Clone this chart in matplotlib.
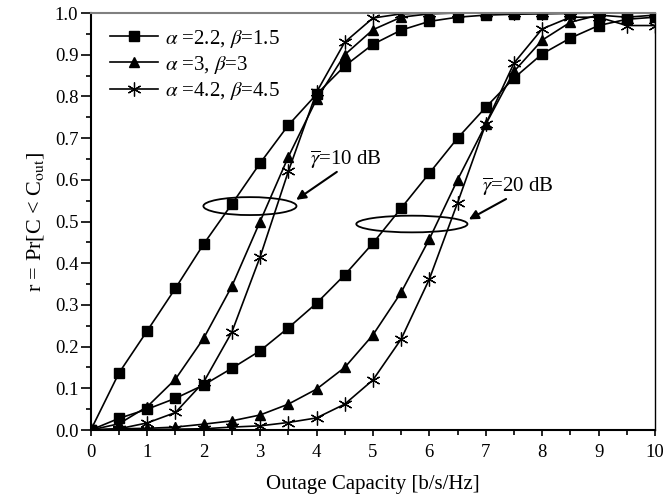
import matplotlib
matplotlib.use("Agg")
import matplotlib.pyplot as plt
import matplotlib.patches as patches

plt.rcParams['font.family'] = ['Liberation Serif', 'DejaVu Serif']
plt.rcParams['mathtext.fontset'] = 'stix'

# capacite de coupure (b/s/Hz)
cap = [0, 0.5, 1, 1.5, 2, 2.5, 3, 3.5, 4, 4.5, 5,
       5.5, 6, 6.5, 7, 7.5, 8, 8.5, 9, 9.5, 10]

# gamma = 10 dB
sq_10 = [0, 0.137, 0.238, 0.34, 0.446, 0.542, 0.64, 0.731, 0.805, 0.873, 0.925,
         0.959, 0.98, 0.99, 0.995, 0.997, 0.998, 0.999, 1.0, 1.0, 1.0]
tri_10 = [0, 0.015, 0.056, 0.122, 0.22, 0.345, 0.50, 0.655, 0.793, 0.90, 0.96,
          0.99, 0.998, 1.0, 1.0, 1.0, 1.0, 1.0, 1.0, 1.0, 1.0]
star_10 = [0, 0.003, 0.017, 0.042, 0.115, 0.235, 0.415, 0.62, 0.81, 0.93, 0.988,
           0.998, 1.0, 1.0, 1.0, 1.0, 1.0, 1.0, 1.0, 1.0, 1.0]

# gamma = 20 dB
sq_20 = [0, 0.028, 0.05, 0.076, 0.108, 0.148, 0.19, 0.245, 0.304, 0.372, 0.448,
         0.532, 0.616, 0.70, 0.774, 0.844, 0.902, 0.94, 0.97, 0.985, 0.99]
tri_20 = [0, 0.003, 0.004, 0.007, 0.014, 0.022, 0.036, 0.062, 0.098, 0.15, 0.228,
          0.33, 0.458, 0.60, 0.733, 0.86, 0.935, 0.978, 0.995, 0.99, 0.995]
star_20 = [0, 0.0, 0.001, 0.002, 0.003, 0.007, 0.01, 0.018, 0.029, 0.062, 0.12,
           0.218, 0.362, 0.545, 0.734, 0.88, 0.962, 0.99, 0.99, 0.97, 0.97]

labels = [r'$\alpha$ =2.2, $\beta$=1.5', r'$\alpha$ =3, $\beta$=3', r'$\alpha$ =4.2, $\beta$=4.5']
star = (6, 2, 0)

fig = plt.figure(figsize=(6.63, 5.01), dpi=100)
ax = fig.add_axes([0.137, 0.1417, 0.851, 0.8323])

kw = dict(color='black', lw=1.2)
l1, = ax.plot(cap, sq_10, marker='s', ms=7, **kw)
l2, = ax.plot(cap, tri_10, marker='^', ms=7, **kw)
l3, = ax.plot(cap, star_10, marker=star, ms=10, mew=0.9, **kw)
ax.plot(cap, sq_20, marker='s', ms=7, **kw)
ax.plot(cap, tri_20, marker='^', ms=7, **kw)
ax.plot(cap, star_20, marker=star, ms=10, mew=0.9, **kw)

# ellipses + fleches
ax.add_patch(patches.Ellipse((2.82, 0.537), 1.65, 0.043, fill=False, ec='black', lw=1.3))
ax.add_patch(patches.Ellipse((5.69, 0.494), 1.97, 0.04, fill=False, ec='black', lw=1.3))
arrow = dict(arrowstyle='-|>', color='black', lw=1.5, mutation_scale=14,
             shrinkA=0, shrinkB=0)
ax.annotate('', xy=(3.64, 0.552), xytext=(4.36, 0.619), arrowprops=arrow)
ax.annotate('', xy=(6.70, 0.505), xytext=(7.36, 0.554), arrowprops=arrow)
ax.text(3.88, 0.647, r'$\overline{\gamma}$=10 dB', fontsize=15, va='center', ha='left')
ax.text(6.93, 0.583, r'$\overline{\gamma}$=20 dB', fontsize=15, va='center', ha='left')

ax.legend([l1, l2, l3], labels, loc='upper left', frameon=False, fontsize=15,
          handlelength=2.3, handletextpad=0.3, labelspacing=0.2,
          borderaxespad=0.0, bbox_to_anchor=(0.02, 0.985))

ax.set_xlim(0, 10)
ax.set_ylim(0, 1.0)
ax.set_xticks(range(0, 11))
ax.set_xticks([i + 0.5 for i in range(10)], minor=True)
ax.set_yticks([i / 10 for i in range(11)])
ax.set_yticklabels(['%.1f' % (i / 10) for i in range(11)])
ax.set_yticks([i / 20 for i in range(1, 20, 2)], minor=True)
ax.tick_params(axis='both', which='major', direction='out', labelsize=13.5, width=1.2)
ax.tick_params(axis='y', which='major', length=7, pad=2)
ax.tick_params(axis='x', which='major', length=4, pad=6)
ax.tick_params(axis='both', which='minor', direction='out', length=3.5, width=1.2)
ax.tick_params(top=False, right=False)

ax.spines['left'].set_linewidth(1.5)
ax.spines['bottom'].set_linewidth(1.5)
ax.spines['right'].set_linewidth(1.0)
ax.spines['top'].set_color('grey')
ax.spines['top'].set_linewidth(1.5)

ax.set_xlabel('Outage Capacity [b/s/Hz]', fontsize=15, labelpad=10)
ax.set_ylabel(r'r = Pr[C < C$_{\rm out}$]', fontsize=16, labelpad=6)

fig.savefig('out.png', dpi=100)
